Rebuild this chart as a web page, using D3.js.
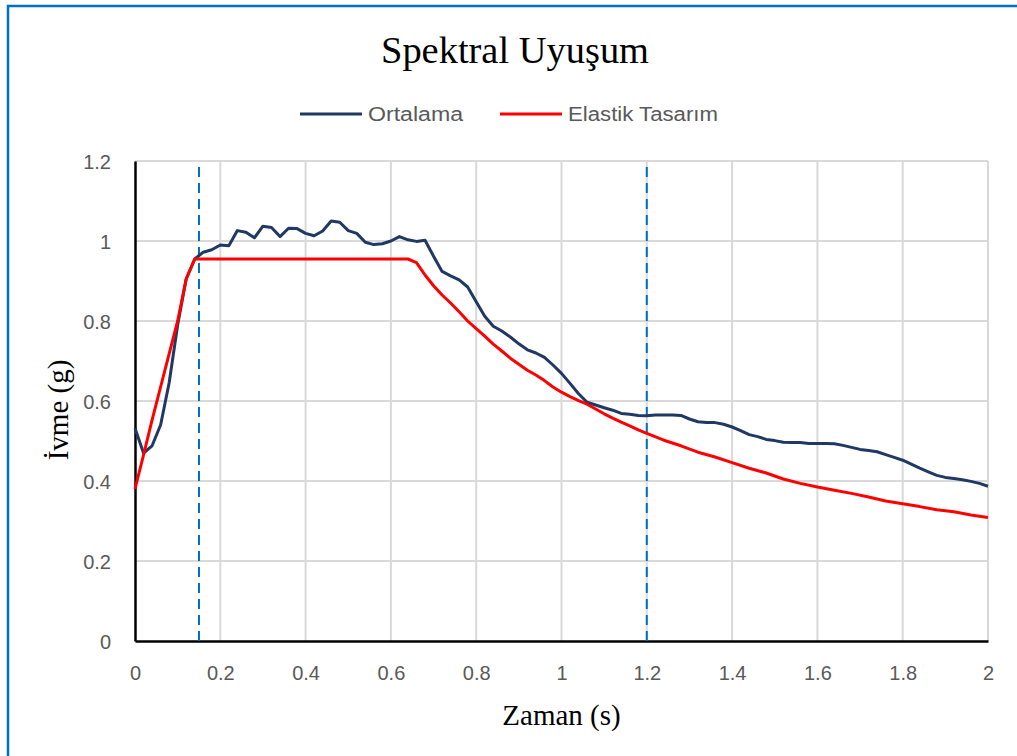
<!DOCTYPE html>
<html>
<head>
<meta charset="utf-8">
<script src="https://cdn.jsdelivr.net/npm/d3@7"></script>
<style>
  body { margin: 0; background: #fff; }
</style>
</head>
<body>
<div id="chart_area"></div>
<script>
var width = 1017
var height = 756
var margin = {left: 135, right: 29, top: 161, bottom: 115}

// Ortalama (mean spectrum)
var ortPeriods = [0, 0.02, 0.04, 0.06, 0.08, 0.10, 0.12, 0.14, 0.16, 0.18, 0.20, 0.22, 0.24, 0.26, 0.28, 0.30, 0.32, 0.34, 0.36, 0.38, 0.40, 0.42, 0.44, 0.46, 0.48, 0.50, 0.52, 0.54, 0.56, 0.58, 0.60, 0.62, 0.64, 0.66, 0.68, 0.70, 0.72, 0.74, 0.76, 0.78, 0.80, 0.82, 0.84, 0.86, 0.88, 0.90, 0.92, 0.94, 0.96, 0.98, 1.00, 1.02, 1.04, 1.06, 1.08, 1.10, 1.12, 1.14, 1.16, 1.18, 1.20, 1.22, 1.24, 1.26, 1.28, 1.30, 1.32, 1.34, 1.36, 1.38, 1.40, 1.42, 1.44, 1.46, 1.48, 1.50, 1.52, 1.54, 1.56, 1.58, 1.60, 1.62, 1.64, 1.66, 1.68, 1.70, 1.72, 1.74, 1.76, 1.78, 1.80, 1.82, 1.84, 1.86, 1.88, 1.90, 1.92, 1.94, 1.96, 1.98, 2.00]
var ortValues = [0.532, 0.47, 0.488, 0.54, 0.645, 0.79, 0.905, 0.955, 0.972, 0.978, 0.99, 0.988, 1.026, 1.022, 1.008, 1.037, 1.034, 1.011, 1.032, 1.031, 1.019, 1.013, 1.025, 1.05, 1.047, 1.026, 1.019, 0.997, 0.991, 0.993, 1.0, 1.011, 1.003, 0.999, 1.002, 0.962, 0.924, 0.913, 0.903, 0.885, 0.848, 0.812, 0.787, 0.775, 0.76, 0.743, 0.728, 0.72, 0.709, 0.69, 0.669, 0.644, 0.618, 0.597, 0.59, 0.583, 0.577, 0.569, 0.567, 0.564, 0.563, 0.565, 0.565, 0.565, 0.564, 0.555, 0.548, 0.546, 0.546, 0.542, 0.535, 0.526, 0.516, 0.511, 0.504, 0.501, 0.497, 0.496, 0.496, 0.494, 0.494, 0.494, 0.493, 0.489, 0.484, 0.479, 0.476, 0.473, 0.466, 0.459, 0.452, 0.442, 0.432, 0.423, 0.414, 0.409, 0.406, 0.403, 0.399, 0.394, 0.387]

// Elastik Tasarım (design spectrum)
var elsPeriods = [0, 0.02, 0.04, 0.06, 0.08, 0.10, 0.12, 0.14, 0.64, 0.66, 0.68, 0.70, 0.72, 0.74, 0.76, 0.78, 0.80, 0.82, 0.84, 0.86, 0.88, 0.90, 0.92, 0.94, 0.96, 0.98, 1.00, 1.02, 1.04, 1.06, 1.08, 1.10, 1.12, 1.14, 1.16, 1.18, 1.20, 1.24, 1.28, 1.32, 1.36, 1.40, 1.44, 1.48, 1.52, 1.56, 1.60, 1.64, 1.68, 1.72, 1.76, 1.80, 1.84, 1.88, 1.92, 1.96, 2.00]
var elsValues = [0.38, 0.465, 0.552, 0.635, 0.718, 0.80, 0.905, 0.955, 0.955, 0.946, 0.915, 0.888, 0.865, 0.845, 0.823, 0.80, 0.781, 0.762, 0.742, 0.725, 0.707, 0.692, 0.677, 0.665, 0.651, 0.635, 0.622, 0.611, 0.601, 0.592, 0.580, 0.568, 0.557, 0.547, 0.538, 0.528, 0.519, 0.502, 0.488, 0.472, 0.460, 0.446, 0.432, 0.420, 0.405, 0.394, 0.385, 0.377, 0.369, 0.360, 0.350, 0.343, 0.336, 0.328, 0.323, 0.315, 0.309]

var xTicks = [0, 0.2, 0.4, 0.6, 0.8, 1, 1.2, 1.4, 1.6, 1.8, 2]
var yTicks = [0, 0.2, 0.4, 0.6, 0.8, 1, 1.2]
var markers = [0.15, 1.2]   // TA, TB lines

var seriesNames = ["Ortalama", "Elastik Tasarım"]
var seriesColors = ["#203864", "#ff0000"]

var svg = d3.select("#chart_area")
  .append("svg")
  .attr("width", width)
  .attr("height", height)
  .style("display", "block")

svg.append("rect")
  .attr("width", width)
  .attr("height", height)
  .attr("fill", "#fff")

// outer frame (only left and top visible)
svg.append("rect")
  .attr("x", 8)
  .attr("y", 6)
  .attr("width", width + 10)
  .attr("height", height + 10)
  .attr("fill", "none")
  .attr("stroke", "#0070c0")
  .attr("stroke-width", 2.5)

var x = d3.scaleLinear().domain([0, 2]).range([margin.left, width - margin.right])
var y = d3.scaleLinear().domain([0, 1.2]).range([height - margin.bottom, margin.top])

// grid
svg.append("g")
  .selectAll("line.v")
  .data(xTicks.slice(1))
  .join("line")
  .attr("x1", d => x(d)).attr("x2", d => x(d))
  .attr("y1", y(0)).attr("y2", y(1.2))
  .attr("stroke", "#d9d9d9")
  .attr("stroke-width", 2)

svg.append("g")
  .selectAll("line.h")
  .data(yTicks.slice(1))
  .join("line")
  .attr("x1", x(0)).attr("x2", x(2))
  .attr("y1", d => y(d)).attr("y2", d => y(d))
  .attr("stroke", "#d9d9d9")
  .attr("stroke-width", 2)

// axes
var xAxis = svg.append("g")
  .attr("transform", "translate(0," + y(0) + ")")
  .call(d3.axisBottom(x).tickValues(xTicks).tickSize(0).tickPadding(25).tickFormat(d3.format("~g")))
xAxis.select(".domain").attr("stroke", "#000").attr("stroke-width", 2.5)

var yAxis = svg.append("g")
  .attr("transform", "translate(" + x(0) + ",0)")
  .call(d3.axisLeft(y).tickValues(yTicks).tickSize(0).tickPadding(24).tickFormat(d3.format("~g")))
yAxis.select(".domain").attr("stroke", "#000").attr("stroke-width", 2.5)

svg.selectAll(".tick text")
  .attr("fill", "#595959")
  .style("font-family", "'Liberation Sans', Arial, sans-serif")
  .style("font-size", "20px")

yAxis.selectAll(".tick text").attr("dy", "0.35em")

// dashed period markers
svg.append("g")
  .selectAll("line")
  .data(markers)
  .join("line")
  .attr("x1", d => x(d)).attr("x2", d => x(d))
  .attr("y1", y(0)).attr("y2", y(1.2))
  .attr("stroke", "#0070c0")
  .attr("stroke-width", 2)
  .attr("stroke-dasharray", "10,6")

var line = d3.line()
  .x(d => x(d[0]))
  .y(d => y(d[1]))

svg.append("path")
  .datum(ortPeriods.map((t, i) => [t, ortValues[i]]))
  .attr("d", line)
  .attr("fill", "none")
  .attr("stroke", seriesColors[0])
  .attr("stroke-width", 3)
  .attr("stroke-linejoin", "round")

svg.append("path")
  .datum(elsPeriods.map((t, i) => [t, elsValues[i]]))
  .attr("d", line)
  .attr("fill", "none")
  .attr("stroke", seriesColors[1])
  .attr("stroke-width", 3)
  .attr("stroke-linejoin", "round")

// title
svg.append("text")
  .attr("x", 515)
  .attr("y", 63)
  .attr("text-anchor", "middle")
  .attr("fill", "#000")
  .attr("textLength", 268)
  .attr("lengthAdjust", "spacingAndGlyphs")
  .style("font-family", "'Liberation Serif', 'Times New Roman', serif")
  .style("font-size", "37px")
  .text("Spektral Uyuşum")

// legend
var legendX = [300, 500]
var legendTextW = [95, 150]
seriesNames.forEach((name, i) => {
  svg.append("line")
    .attr("x1", legendX[i]).attr("x2", legendX[i] + 62)
    .attr("y1", 114).attr("y2", 114)
    .attr("stroke", seriesColors[i])
    .attr("stroke-width", 3)
  svg.append("text")
    .attr("x", legendX[i] + 68)
    .attr("y", 114)
    .attr("dy", "0.35em")
    .attr("fill", "#595959")
    .attr("textLength", legendTextW[i])
    .attr("lengthAdjust", "spacingAndGlyphs")
    .style("font-family", "'Liberation Sans', Arial, sans-serif")
    .style("font-size", "20px")
    .text(name)
})

// axis titles
svg.append("text")
  .attr("x", x(1))
  .attr("y", 725)
  .attr("text-anchor", "middle")
  .attr("fill", "#000")
  .style("font-family", "'Liberation Serif', 'Times New Roman', serif")
  .style("font-size", "29px")
  .text("Zaman (s)")

svg.append("text")
  .attr("transform", "translate(68," + 410 + ") rotate(-90)")
  .attr("text-anchor", "middle")
  .attr("fill", "#000")
  .style("font-family", "'Liberation Serif', 'Times New Roman', serif")
  .style("font-size", "29px")
  .text("İvme (g)")
</script>
</body>
</html>
